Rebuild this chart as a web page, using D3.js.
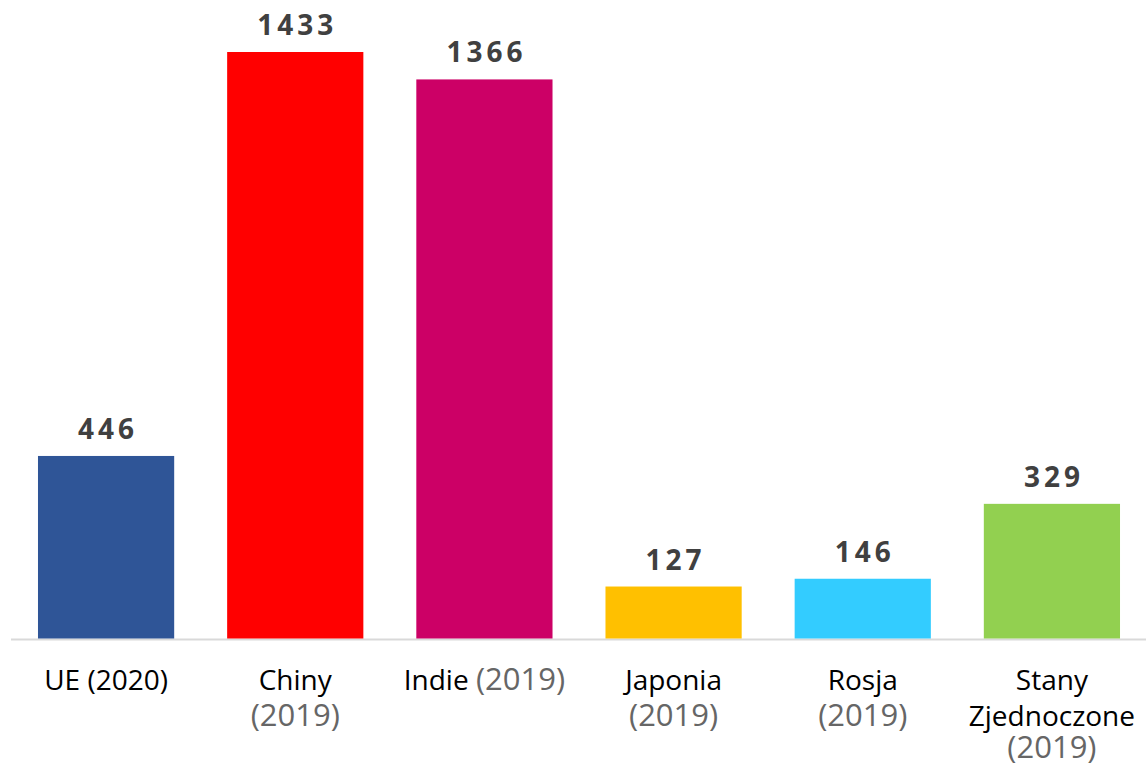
<!DOCTYPE html>
<html>
<head>
<meta charset="utf-8">
<script src="https://cdn.jsdelivr.net/npm/d3@7"></script>
<style>
  body { margin: 0; background: #fff; }
  svg { display: block; }
</style>
</head>
<body>
<div id="graph"></div>
<script>
var categories = ['UE', 'Chiny', 'Indie', 'Japonia', 'Rosja', 'Stany Zjednoczone']
var values = [446, 1433, 1366, 127, 146, 329]
var colors = ['#2F5597', '#FF0000', '#CC0066', '#FFC000', '#33CCFF', '#92D050']

// tick labels: each line is a list of [text, isYear] pieces
var tickLines = [
  [[['UE (2020)', 0]]],
  [[['Chiny', 0]], [['(2019)', 1]]],
  [[['Indie ', 0], ['(2019)', 1]]],
  [[['Japonia', 0]], [['(2019)', 1]]],
  [[['Rosja', 0]], [['(2019)', 1]]],
  [[['Stany', 0]], [['Zjednoczone', 0]], [['(2019)', 1]]]
]

var width = 1146, height = 766

var svg = d3.select('#graph').append('svg')
  .attr('width', width)
  .attr('height', height)

var x = d3.scaleBand()
  .domain(categories)
  .range([11.5, 1146.5])
  .paddingInner(0.28)
  .paddingOuter(0.14)

var y = d3.scaleLinear()
  .domain([0, 1433])
  .range([638.5, 52])

// baseline
svg.append('line')
  .attr('x1', 11).attr('x2', width)
  .attr('y1', y(0) + 1).attr('y2', y(0) + 1)
  .attr('stroke', '#D9D9D9')
  .attr('stroke-width', 2)

svg.selectAll('rect.bar')
  .data(categories)
  .join('rect')
  .attr('class', 'bar')
  .attr('x', d => x(d))
  .attr('width', x.bandwidth())
  .attr('y', (d, i) => y(values[i]))
  .attr('height', (d, i) => y(0) - y(values[i]))
  .attr('fill', (d, i) => colors[i])

svg.selectAll('text.val')
  .data(categories)
  .join('text')
  .attr('class', 'val')
  .attr('x', d => x(d) + x.bandwidth() / 2 + 2)
  .attr('y', (d, i) => y(values[i]) - 17)
  .attr('text-anchor', 'middle')
  .attr('font-family', 'Open Sans, sans-serif')
  .attr('font-weight', 700)
  .attr('font-size', 28)
  .attr('letter-spacing', 4)
  .attr('fill', '#404040')
  .text((d, i) => values[i])

var lineY = [690, 726, 758]

categories.forEach((c, i) => {
  tickLines[i].forEach((pieces, j) => {
    var t = svg.append('text')
      .attr('x', x(c) + x.bandwidth() / 2)
      .attr('y', lineY[j])
      .attr('text-anchor', 'middle')
      .attr('font-family', 'Open Sans, sans-serif')
    pieces.forEach(p => {
      t.append('tspan')
        .text(p[0])
        .attr('font-size', p[1] ? 31 : 28)
        .attr('fill', p[1] ? '#666666' : '#000000')
    })
  })
})
</script>
</body>
</html>
